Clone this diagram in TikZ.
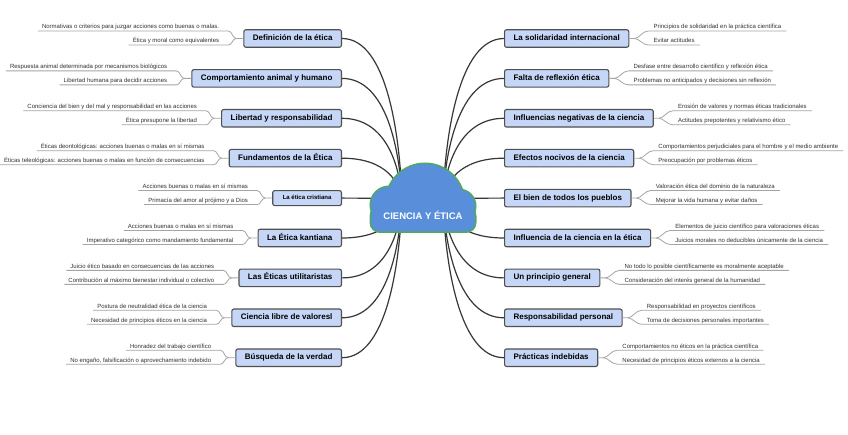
\documentclass[tikz,border=0pt]{standalone}
\usepackage{fontspec}
\setmainfont{Liberation Sans}
\usetikzlibrary{calc}
\definecolor{boxfill}{RGB}{197,214,247}
\definecolor{boxdraw}{RGB}{80,80,80}
\definecolor{connc}{RGB}{55,55,55}
\definecolor{leafc}{RGB}{165,165,165}
\definecolor{leaftext}{RGB}{50,50,50}
\definecolor{cloudfill}{RGB}{88,142,218}
\definecolor{cloudline}{RGB}{80,170,90}
\tikzset{
 mainbox/.style={draw=boxdraw, fill=boxfill, line width=1.1pt, rounded corners=2pt,
   font=\fontsize{8}{9}\selectfont\bfseries, inner xsep=9pt, inner ysep=0pt,
   minimum height=17.5pt, text height=5.9pt, text depth=1.7pt, text=black},
 smallbox/.style={font=\fontsize{6}{7}\selectfont\bfseries, minimum height=15pt,
   inner xsep=10pt, text height=4.5pt, text depth=1.3pt},
 leaf/.style={font=\fontsize{6}{7}\selectfont, inner sep=0pt, text=leaftext},
 leafln/.style={draw=leafc, line width=0.8pt},
 conn/.style={draw=connc, line width=1.2pt},
 cloudedge/.style={draw=cloudline, line width=3pt},
 cloudbody/.style={fill=cloudfill},
 cloudtext/.style={font=\fontsize{9.5}{11}\selectfont\bfseries, text=white, inner sep=0pt},
}
\newcommand\LBranch[6]{%
 \node[mainbox,#3,anchor=east] (#1) at (342,#2) {#4};
 \coordinate (#1f) at ($(#1.west)+(-7,0)$);
 \coordinate (#1ea) at ($(#1.west)+(-15,-7.5)$);
 \coordinate (#1eb) at ($(#1.west)+(-15,6.5)$);
 \node[leaf,anchor=base east] (#1a) at ($(#1ea)+(-9,-2)$) {#5};
 \node[leaf,anchor=base east] (#1b) at ($(#1eb)+(-9,-2)$) {#6};
 \draw[leafln] (#1.west) -- (#1f) .. controls +(-4,0) and +(4,0) .. (#1ea) -- (#1ea -| #1a.west) -- ++(-4,0);
 \draw[leafln] (#1f) .. controls +(-4,0) and +(4,0) .. (#1eb) -- (#1eb -| #1b.west) -- ++(-4,0);
 \pgfmathsetmacro\cyy{#2+0.6*(200-#2)}
 \draw[conn] (#1.east) .. controls +(45,0) and (400,\cyy) .. (cl);
}
\newcommand\RBranch[6]{%
 \node[mainbox,#3,anchor=west] (#1) at (504,#2) {#4};
 \coordinate (#1f) at ($(#1.east)+(5,0)$);
 \coordinate (#1ea) at ($(#1.east)+(19,-7.5)$);
 \coordinate (#1eb) at ($(#1.east)+(19,6.5)$);
 \node[leaf,anchor=base west] (#1a) at ($(#1ea)+(5,-2)$) {#5};
 \node[leaf,anchor=base west] (#1b) at ($(#1eb)+(5,-2)$) {#6};
 \draw[leafln] (#1.east) -- (#1f) .. controls +(5,0) and +(-6,0) .. (#1ea) -- (#1ea -| #1a.east) -- ++(5,0);
 \draw[leafln] (#1f) .. controls +(5,0) and +(-6,0) .. (#1eb) -- (#1eb -| #1b.east) -- ++(5,0);
 \pgfmathsetmacro\cyy{#2+0.6*(200-#2)}
 \draw[conn] (#1.west) .. controls +(-45,0) and (445,\cyy) .. (cr);
}
\begin{document}
\begin{tikzpicture}[x=1pt,y=-1pt]
\fill[white] (0,0) rectangle (848,435);
\useasboundingbox (0,0) rectangle (848,435);
\coordinate (cl) at (402,200);
\coordinate (cr) at (443,200);

\LBranch{la}{38.5}{}{Definición de la ética}{Normativas o criterios para juzgar acciones como buenas o malas.}{Ética y moral como equivalentes}
\LBranch{lb}{78.4}{}{Comportamiento animal y humano}{Respuesta animal determinada por mecanismos biológicos}{Libertad humana para decidir acciones}
\LBranch{lc}{118.3}{}{Libertad y responsabilidad}{Conciencia del bien y del mal y responsabilidad en las acciones}{Ética presupone la libertad}
\LBranch{ld}{158.2}{}{Fundamentos de la Ética}{Éticas deontológicas: acciones buenas o malas en sí mismas}{Éticas teleológicas: acciones buenas o malas en función de consecuencias}
\LBranch{le}{198.1}{smallbox}{La ética cristiana}{Acciones buenas o malas en sí mismas}{Primacía del amor al prójimo y a Dios}
\LBranch{lf}{238}{}{La Ética kantiana}{Acciones buenas o malas en sí mismas}{Imperativo categórico como mandamiento fundamental}
\LBranch{lg}{277.9}{}{Las Éticas utilitaristas}{Juicio ético basado en consecuencias de las acciones}{Contribución al máximo bienestar individual o colectivo}
\LBranch{lh}{317.8}{}{Ciencia libre de valoresl}{Postura de neutralidad ética de la ciencia}{Necesidad de principios éticos en la ciencia}
\LBranch{li}{357.7}{}{Búsqueda de la verdad}{Honradez del trabajo científico}{No engaño, falsificación o aprovechamiento indebido}

\RBranch{ra}{38.5}{}{La solidaridad internacional}{Principios de solidaridad en la práctica científica}{Evitar actitudes}
\RBranch{rb}{78.4}{}{Falta de reflexión ética}{Desfase entre desarrollo científico y reflexión ética}{Problemas no anticipados y decisiones sin reflexión}
\RBranch{rc}{118.3}{}{Influencias negativas de la ciencia}{Erosión de valores y normas éticas tradicionales}{Actitudes prepotentes y relativismo ético}
\RBranch{rd}{158.2}{}{Efectos nocivos de la ciencia}{Comportamientos perjudiciales para el hombre y el medio ambiente}{Preocupación por problemas éticos}
\RBranch{re}{198.1}{}{El bien de todos los pueblos}{Valoración ética del dominio de la naturaleza}{Mejorar la vida humana y evitar daños}
\RBranch{rf}{238}{}{Influencia de la ciencia en la ética}{Elementos de juicio científico para valoraciones éticas}{Juicios morales no deducibles únicamente de la ciencia}
\RBranch{rg}{277.9}{}{Un principio general}{No todo lo posible científicamente es moralmente aceptable}{Consideración del interés general de la humanidad}
\RBranch{rh}{317.8}{}{Responsabilidad personal}{Responsabilidad en proyectos científicos}{Toma de decisiones personales importantes}
\RBranch{ri}{357.7}{}{Prácticas indebidas}{Comportamientos no éticos en la práctica científica}{Necesidad de principios éticos externos a la ciencia}

% cloud: outline first, then body on top
\begin{scope}
 \clip (340,140) rectangle (510,225);
 \draw[cloudedge] (425,203) circle[radius=39];
\end{scope}
\draw[cloudedge] (389,205) circle[radius=18];
\draw[cloudedge] (459,206) circle[radius=16];
\draw[cloudedge, rounded corners=9pt] (371,207) rectangle (475,231.5);
\begin{scope}
 \clip (340,140) rectangle (510,225);
 \fill[cloudbody] (425,203) circle[radius=39];
\end{scope}
\fill[cloudbody] (389,205) circle[radius=18];
\fill[cloudbody] (459,206) circle[radius=16];
\fill[cloudbody, rounded corners=9pt] (371,207) rectangle (475,231.5);
\node[cloudtext, anchor=base] (cloud) at (423,220) {CIENCIA Y ÉTICA};
\end{tikzpicture}
\end{document}
